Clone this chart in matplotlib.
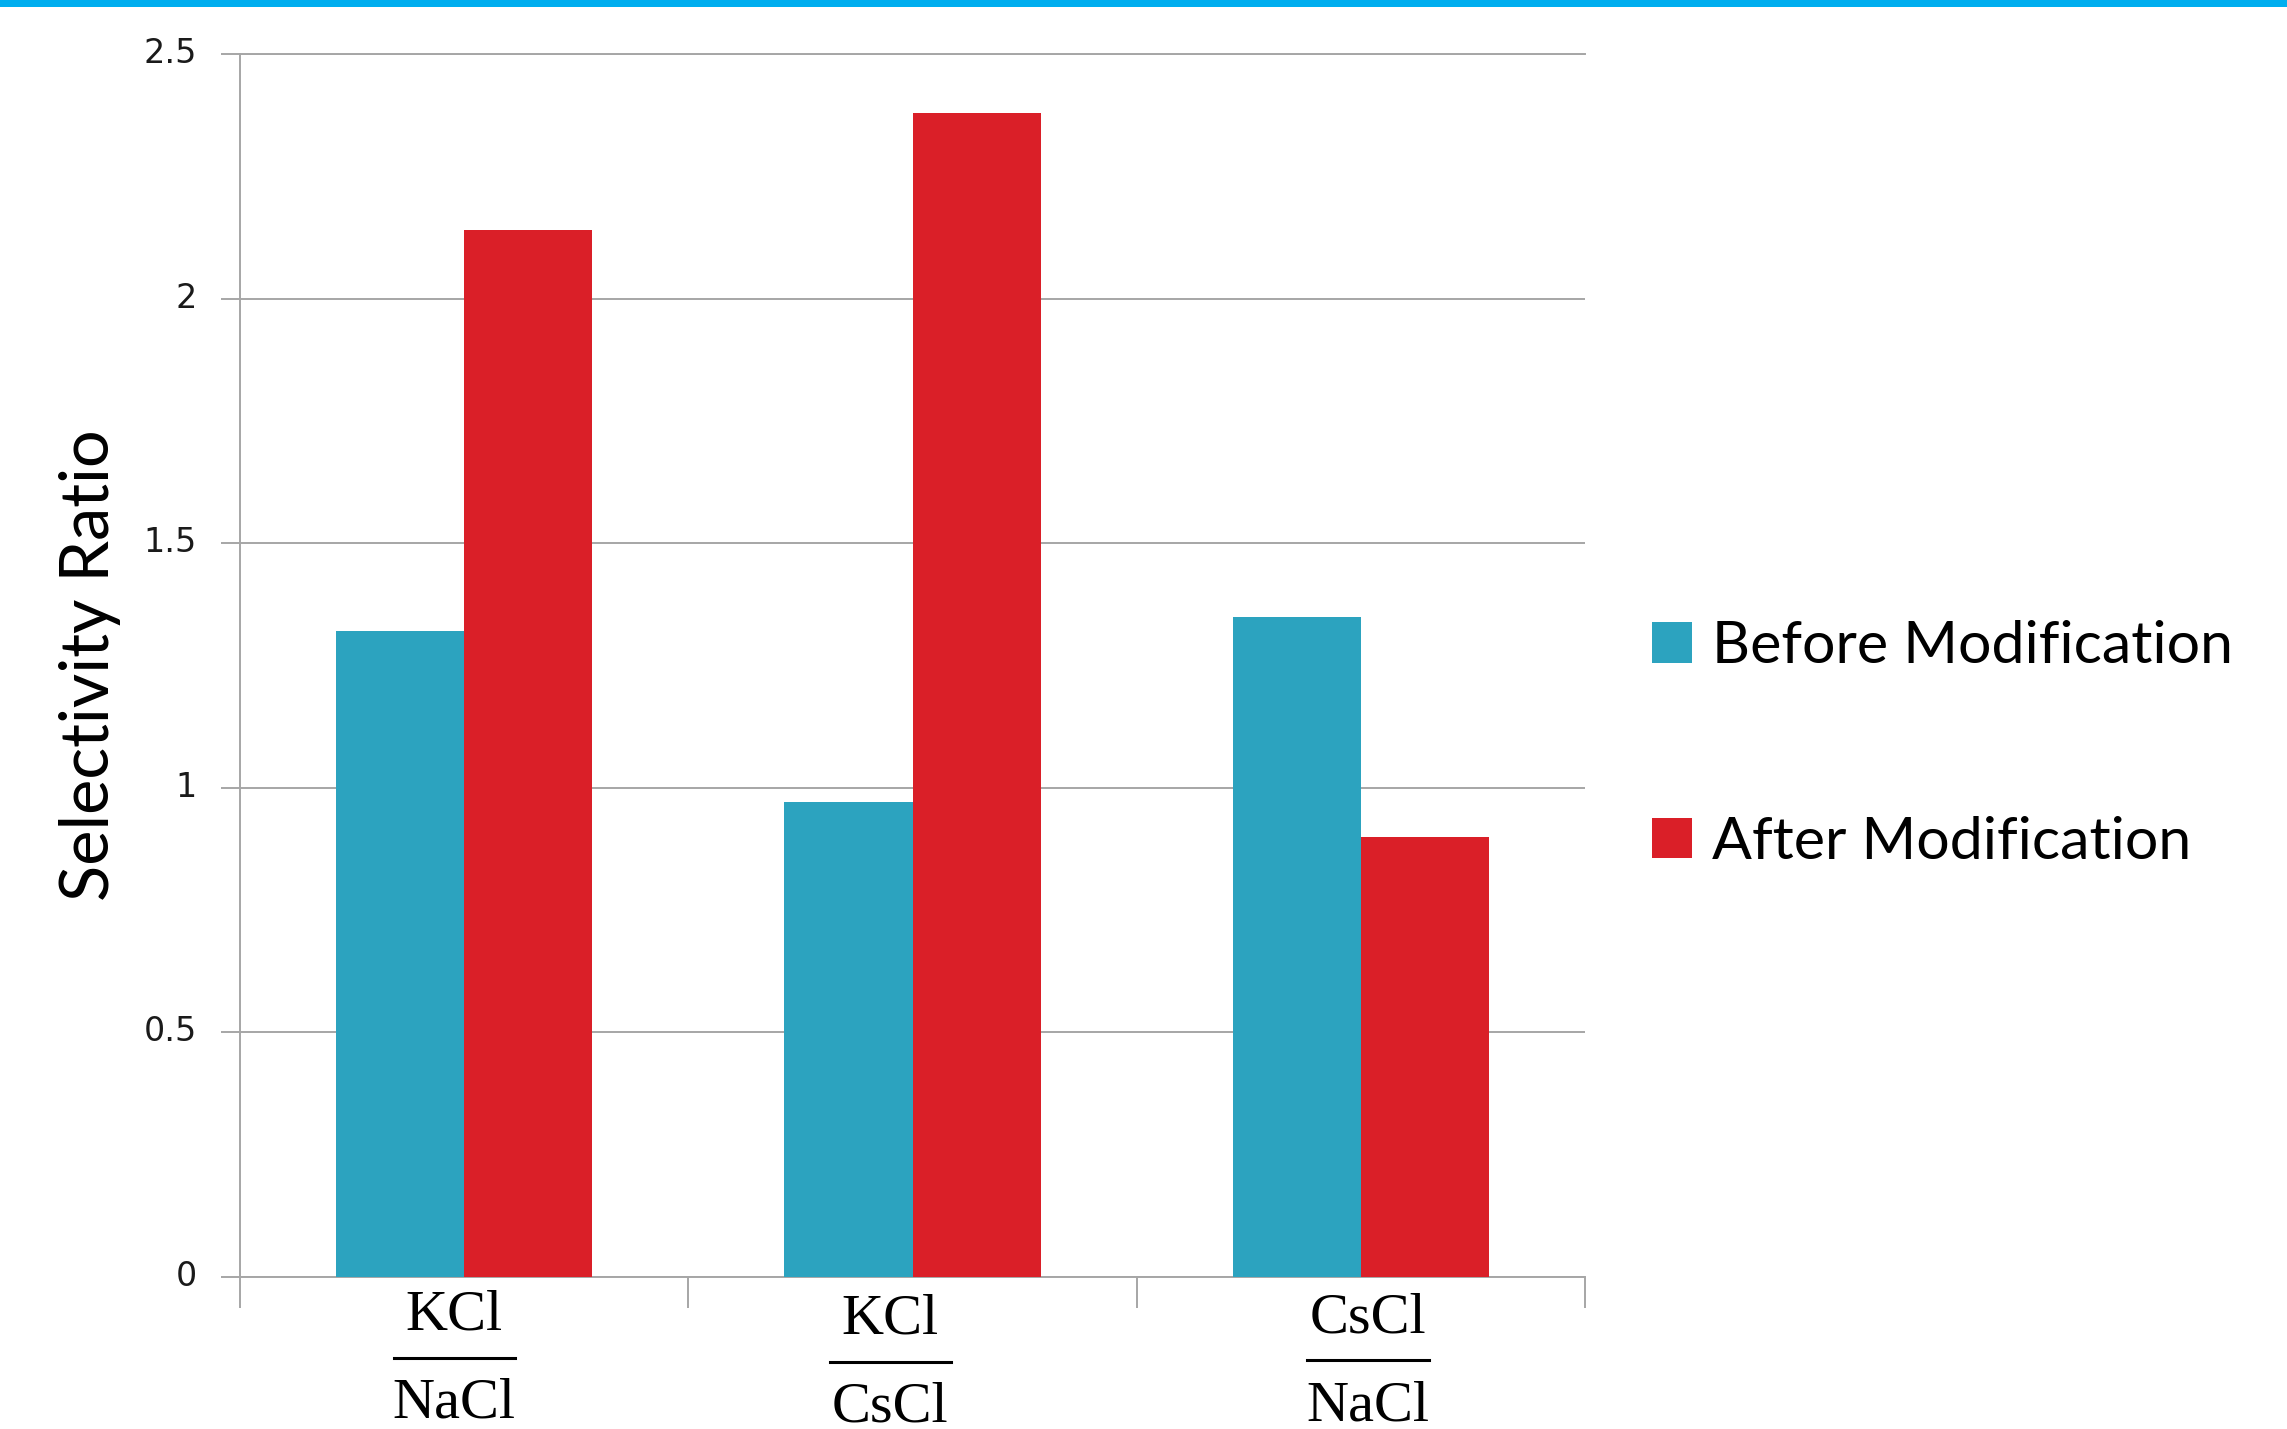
import matplotlib
matplotlib.use("Agg")
import matplotlib.pyplot as plt
import matplotlib.transforms as mtransforms
from matplotlib.patches import Rectangle
import numpy as np

# Chart data
numerators = ["KCl", "KCl", "CsCl"]
denominators = ["NaCl", "CsCl", "NaCl"]
before = [1.32, 0.97, 1.35]
after = [2.14, 2.38, 0.90]
series_names = ["Before Modification", "After Modification"]
y_ticks = [0, 0.5, 1, 1.5, 2, 2.5]
y_tick_labels = ["0", "0.5", "1", "1.5", "2", "2.5"]

blue = "#2CA3BF"
red = "#DA1F28"
grid_gray = "#A6A6A6"

fig = plt.figure(figsize=(22.87, 14.29), dpi=100)
ax = fig.add_axes([240 / 2287, 1 - 1277 / 1429, 1345 / 2287, 1223 / 1429])

# thin blue band at the very top
fig.patches.append(Rectangle((0, 1 - 7 / 1429), 1, 7 / 1429, transform=fig.transFigure,
                             facecolor="#00AEEF", edgecolor="none"))

x = np.arange(len(numerators))
w = 1 / 3.5  # gap width 150%
ax.bar(x - w / 2, before, w, color=blue, label=series_names[0], zorder=3)
ax.bar(x + w / 2, after, w, color=red, label=series_names[1], zorder=3)

ax.set_xlim(-0.5, len(numerators) - 0.5)
ax.set_ylim(0, 2.5)
ax.set_yticks(y_ticks)
ax.set_yticklabels(y_tick_labels, fontsize=24, family=["DejaVu Sans"], color="#1a1a1a")
ax.set_xticks(np.arange(len(numerators) + 1) - 0.5)
ax.set_xticklabels([])
ax.tick_params(axis="y", length=14, width=1.4, color=grid_gray, pad=17)
ax.tick_params(axis="x", length=22, width=1.4, color=grid_gray)
# nudge y tick labels up a little, like the original
up = mtransforms.ScaledTranslation(0, 4 / 100, fig.dpi_scale_trans)
for lab in ax.get_yticklabels():
    lab.set_transform(lab.get_transform() + up)
ax.yaxis.grid(True, color=grid_gray, linewidth=1.4, zorder=0)
ax.set_axisbelow(True)
for side in ["left", "bottom", "top"]:
    ax.spines[side].set_color(grid_gray)
    ax.spines[side].set_linewidth(1.4)
ax.spines["right"].set_visible(False)

# fraction-style category labels
tr = ax.get_xaxis_transform()
label_dx = [-0.022, -0.05, 0.016]
label_dy = [0.0, -0.003, -0.002]
for i, (num, den) in enumerate(zip(numerators, denominators)):
    cx = x[i] + label_dx[i]
    dy = label_dy[i]
    ax.text(cx, -0.0433 + dy, num, transform=tr, ha="center", va="baseline",
            fontsize=42, family=["Liberation Serif"], color="black")
    ax.plot([cx - 0.135, cx + 0.135], [-0.0662 + dy, -0.0662 + dy], transform=tr,
            color="black", linewidth=2.2, clip_on=False)
    ax.text(cx, -0.115 + dy, den, transform=tr, ha="center", va="baseline",
            fontsize=42, family=["Liberation Serif"], color="black")

ax.text(-0.1115, 0.5, "Selectivity Ratio", transform=ax.transAxes, rotation=90,
        ha="center", va="center", fontsize=48, family=["Lato", "DejaVu Sans"])

fig.legend(loc="upper left", bbox_to_anchor=(1652 / 2287, 1 - 620 / 1429),
           frameon=False, prop={"family": ["Lato", "DejaVu Sans"], "size": 42.5},
           handlelength=0.68, handleheight=0.68, handletextpad=0.33,
           labelspacing=2.42, borderpad=0, borderaxespad=0)

fig.savefig("out.png", dpi=100)
